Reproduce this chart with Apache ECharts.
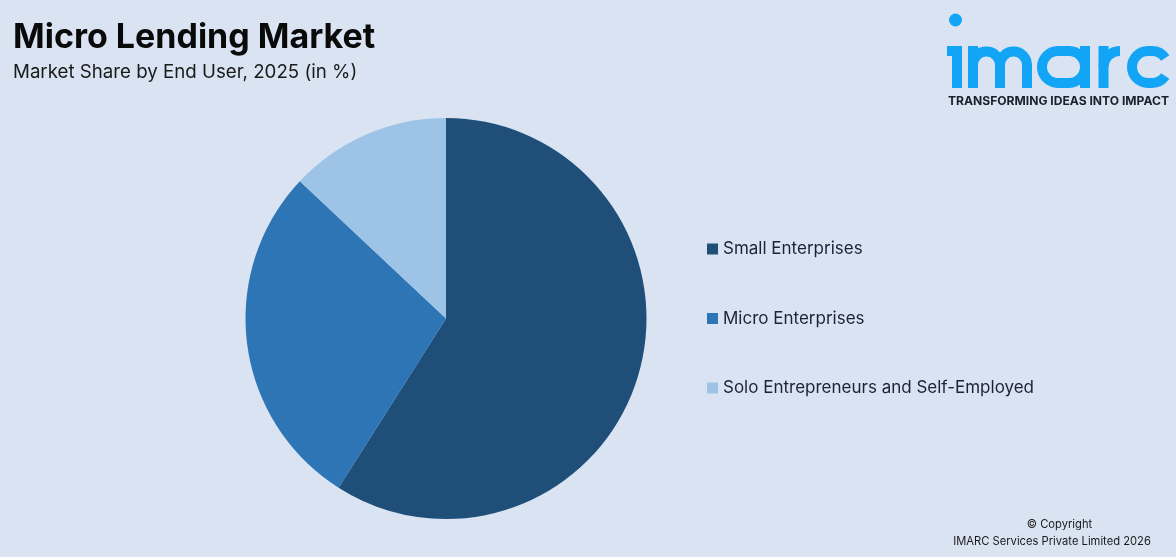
<!DOCTYPE html>
<html><head><meta charset="utf-8">
<style>html,body{margin:0;padding:0;background:#d9e3f2}#c{width:1176px;height:557px}</style>
<script src="https://cdn.jsdelivr.net/npm/echarts@6/dist/echarts.min.js"></script>
</head><body><div id="c"></div>
<script>
const categories = ['Small Enterprises','Micro Enterprises','Solo Entrepreneurs and Self-Employed'];
const shares = [59, 28, 13];
const colors = ['#1f4e79','#2e75b6','#9dc3e6'];
const chartTitle = 'Micro Lending Market';
const chartSubtitle = 'Market Share by End User, 2025 (in %)';
const F = 'Inter, "Open Sans", sans-serif';
const logoBlue = '#12a5f5';
const S = {fill:'none',stroke:logoBlue,lineWidth:10};
const line = (x1,y1,x2,y2)=>({type:'line',shape:{x1,y1,x2,y2},style:S});
const arc = (cx,cy,r,a,b)=>({type:'arc',shape:{cx,cy,r,startAngle:a,endAngle:b,clockwise:true},style:S});
const P = Math.PI;
const chart = echarts.init(document.getElementById('c'));
chart.setOption({
  animation:false,
  backgroundColor:'#d9e3f2',
  title:{text:chartTitle,subtext:chartSubtitle,left:13,top:18,itemGap:2,padding:0,
    textStyle:{fontFamily:F,fontSize:34,fontWeight:700,color:'#0a0a0a',lineHeight:40},
    subtextStyle:{fontFamily:F,fontSize:18.7,color:'#1a1a1a',lineHeight:24}},
  legend:{orient:'vertical',left:707,top:239,itemWidth:11,itemHeight:11,itemGap:49.5,padding:0,
    icon:'rect',data:categories,selectedMode:false,
    textStyle:{fontFamily:F,fontSize:17,color:'#1c2333',lineHeight:20}},
  series:[{type:'pie',center:[446,318.5],radius:[0,200.5],startAngle:90,clockwise:true,
    label:{show:false},labelLine:{show:false},silent:true,
    data:categories.map((n,i)=>({name:n,value:shares[i],itemStyle:{color:colors[i]}}))}],
  graphic:[
    {type:'circle',shape:{cx:955.5,cy:20,r:6.5},style:{fill:logoBlue}},
    line(947,51,962,51), line(957,46,957,88),
    line(973,46,973,88), arc(986.5,65,13.5,P,2*P), arc(1013.5,65,13.5,P,2*P),
    line(1000,65,1000,88), line(1027,65,1027,88),
    arc(1058,67,16,P/2,1.5*P), arc(1069,67,16,-P/2,P/2), line(1058,51,1069,51), line(1058,83,1069,83),
    line(1085,46,1085,88),
    line(1103.5,46,1103.5,88), arc(1120,67.5,16.5,P,1.5*P),
    arc(1148,67,16,P/2,1.5*P), line(1148,51,1152,51), line(1148,83,1152,83),
    arc(1152,67,16,-P/2,-0.6), arc(1152,67,16,0.6,P/2),
    {type:'text',style:{x:948,y:95,text:'TRANSFORMING IDEAS INTO IMPACT',fontFamily:F,fontSize:12.1,fontWeight:700,fill:'#1a1f2b'}},
    {type:'text',style:{x:1059.5,y:519,text:'© Copyright',align:'center',fontFamily:F,fontSize:11.2,fill:'#1a1a1a'}},
    {type:'text',style:{x:1052,y:536,text:'IMARC Services Private Limited 2026',align:'center',fontFamily:F,fontSize:11.2,fill:'#1a1a1a'}}
  ]
});
</script></body></html>
